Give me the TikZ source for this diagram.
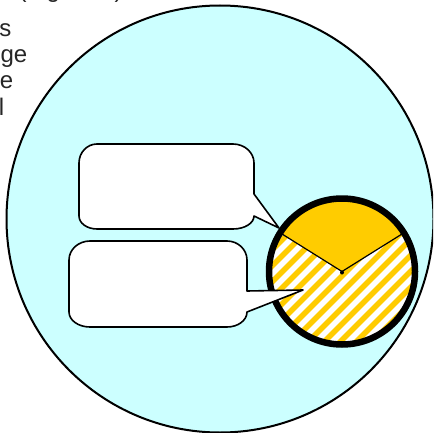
\documentclass[tikz,border=0pt]{standalone}
\usepackage{fontspec}
\setmainfont{Liberation Sans}
\usetikzlibrary{calc}
\definecolor{bgcyan}{HTML}{CCFFFF}
\definecolor{pieorange}{HTML}{FFCC00}
\tikzset{
  frag/.style={inner sep=0pt, font=\fontsize{24}{26}\selectfont, text=black!85},
  bigcircle/.style={fill=bgcyan, draw=black, line width=2pt},
  ringline/.style={draw=black, line width=6.5pt},
  sliceline/.style={draw=black, line width=1.2pt},
  stripe/.style={draw=pieorange, line width=5.6pt},
  callout/.style={fill=white, draw=black, line width=1.6pt, line join=round}
}
\begin{document}
\begin{tikzpicture}[x=1pt,y=-1pt]
\useasboundingbox (0,0) rectangle (433,433);
\clip (0,0) rectangle (433,433);
\fill[white] (0,0) rectangle (433,433);
% cropped text fragments
\node[frag, anchor=base east] (t0) at (5,-2) {n};
\node[frag, anchor=base west] (t1) at (18.5,-2) {(Figure 1)};
\node[frag, anchor=base east] (t2) at (11.5,37) {s};
\node[frag, anchor=base east] (t3) at (27.5,63) {ge};
\node[frag, anchor=base east] (t4) at (13.5,89) {e};
\node[frag, anchor=base east] (t5) at (4.5,115) {l};
% big circle
\coordinate (bc) at (220,219);
\path[bigcircle] (bc) circle[radius=213.5];
% pie
\coordinate (pc) at (342,271.5);
\coordinate (pr) at (403.9,232.8);
\coordinate (pl) at (280.1,232.8);
\begin{scope}
  \clip (pc) -- (pr) arc[start angle=-32, end angle=212, radius=73] -- cycle;
  \fill[white] (pc) circle[radius=80];
  \foreach \i in {0,...,18} {
    \draw[stripe] ({130+16*\i},360) -- ({130+16*\i+180},180);
  }
\end{scope}
\fill[pieorange] (pc) -- (pr) arc[start angle=-32, end angle=-148, radius=73] -- cycle;
\draw[sliceline] (pl) -- (pc) -- (pr);
\fill[black] ($(pc)+(0,1)$) circle[radius=2];
\draw[ringline] (pc) circle[radius=73];
% callout 1
\coordinate (tip1) at (279,228);
\draw[callout] (97,144) -- (233,144)
  arc[start angle=-90, end angle=0, x radius=21, y radius=19] -- (254,194)
  -- (tip1) -- (254,216)
  arc[start angle=0, end angle=90, x radius=21, y radius=13] -- (97,229)
  arc[start angle=90, end angle=180, x radius=18, y radius=13] -- (79,163)
  arc[start angle=180, end angle=270, x radius=18, y radius=19] -- cycle;
% callout 2
\coordinate (tip2) at (303,290);
\draw[callout] (90,241) -- (227,241)
  arc[start angle=-90, end angle=0, x radius=20, y radius=19] -- (247,291)
  -- (tip2) -- (247,312)
  arc[start angle=0, end angle=90, x radius=20, y radius=15] -- (90,327)
  arc[start angle=90, end angle=180, x radius=21, y radius=15] -- (69,260)
  arc[start angle=180, end angle=270, x radius=21, y radius=19] -- cycle;
\end{tikzpicture}
\end{document}
